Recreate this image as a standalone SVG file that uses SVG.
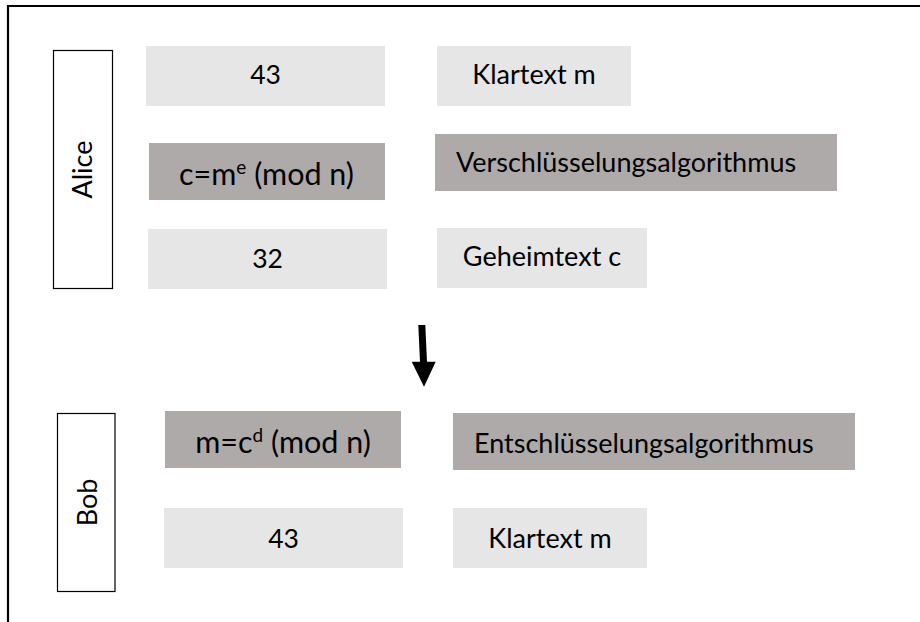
<svg xmlns="http://www.w3.org/2000/svg" width="920" height="622" viewBox="0 0 920 622">
  <style>
    .t { font-family: Lato, "Open Sans", "Liberation Sans", sans-serif; font-size: 27px; fill: #000; }
    .num { font-size: 26.5px; }
    .f { font-size: 30.5px; }
    .mid { text-anchor: middle; }
    .light { fill: #e7e6e6; }
    .dark { fill: #aeaaaa; }
    .party { fill: #fff; stroke: #000; stroke-width: 1.2; }
    .sup { font-size: 19px; }
  </style>

  <!-- frame -->
  <path d="M8 622 V6 H920" fill="none" stroke="#000" stroke-width="2.2"/>

  <!-- Alice -->
  <g id="alice">
    <rect class="party" x="53.5" y="50.5" width="59" height="238"/>
    <text class="t mid" transform="translate(92 169.5) rotate(-90)">Alice</text>
  </g>
  <g id="alice-m-value">
    <rect class="light" x="146" y="46" width="239" height="60"/>
    <text class="t num mid" x="265.5" y="84">43</text>
  </g>
  <g id="alice-m-label">
    <rect class="light" x="437" y="46" width="194" height="60"/>
    <text class="t mid" x="534" y="84">Klartext m</text>
  </g>
  <g id="alice-formula">
    <rect class="dark" x="149" y="143" width="236" height="57"/>
    <text class="t f mid" x="266.5" y="184.5">c=m<tspan class="sup" dy="-11">e</tspan><tspan dy="11"> (mod n)</tspan></text>
  </g>
  <g id="alice-algorithm">
    <rect class="dark" x="435" y="134" width="402" height="57"/>
    <text class="t" x="456" y="172">Verschlüsselungsalgorithmus</text>
  </g>
  <g id="alice-c-value">
    <rect class="light" x="148" y="229" width="239" height="60"/>
    <text class="t num mid" x="267.5" y="267.5">32</text>
  </g>
  <g id="alice-c-label">
    <rect class="light" x="437" y="228" width="210" height="60"/>
    <text class="t mid" x="542" y="266">Geheimtext c</text>
  </g>

  <!-- Bob -->
  <g id="bob">
    <rect class="party" x="57.5" y="413.5" width="57.5" height="178"/>
    <text class="t mid" transform="translate(96.5 502.5) rotate(-90)">Bob</text>
  </g>
  <g id="bob-formula">
    <rect class="dark" x="165" y="411" width="236" height="57"/>
    <text class="t f mid" x="283" y="453">m=c<tspan class="sup" dy="-11">d</tspan><tspan dy="11"> (mod n)</tspan></text>
  </g>
  <g id="bob-algorithm">
    <rect class="dark" x="453" y="413" width="402" height="57"/>
    <text class="t" x="474" y="453">Entschlüsselungsalgorithmus</text>
  </g>
  <g id="bob-m-value">
    <rect class="light" x="164" y="508" width="239" height="60"/>
    <text class="t num mid" x="283.5" y="548">43</text>
  </g>
  <g id="bob-m-label">
    <rect class="light" x="453" y="508" width="194" height="60"/>
    <text class="t mid" x="550" y="547.5">Klartext m</text>
  </g>

  <!-- connectors -->
  <g id="connectors">
    <polygon fill="#000" points="418.3,325 425.3,325 427,361.7 435.7,361.7 424,386.7 411.7,361.7 420,361.7"/>
  </g>
</svg>
